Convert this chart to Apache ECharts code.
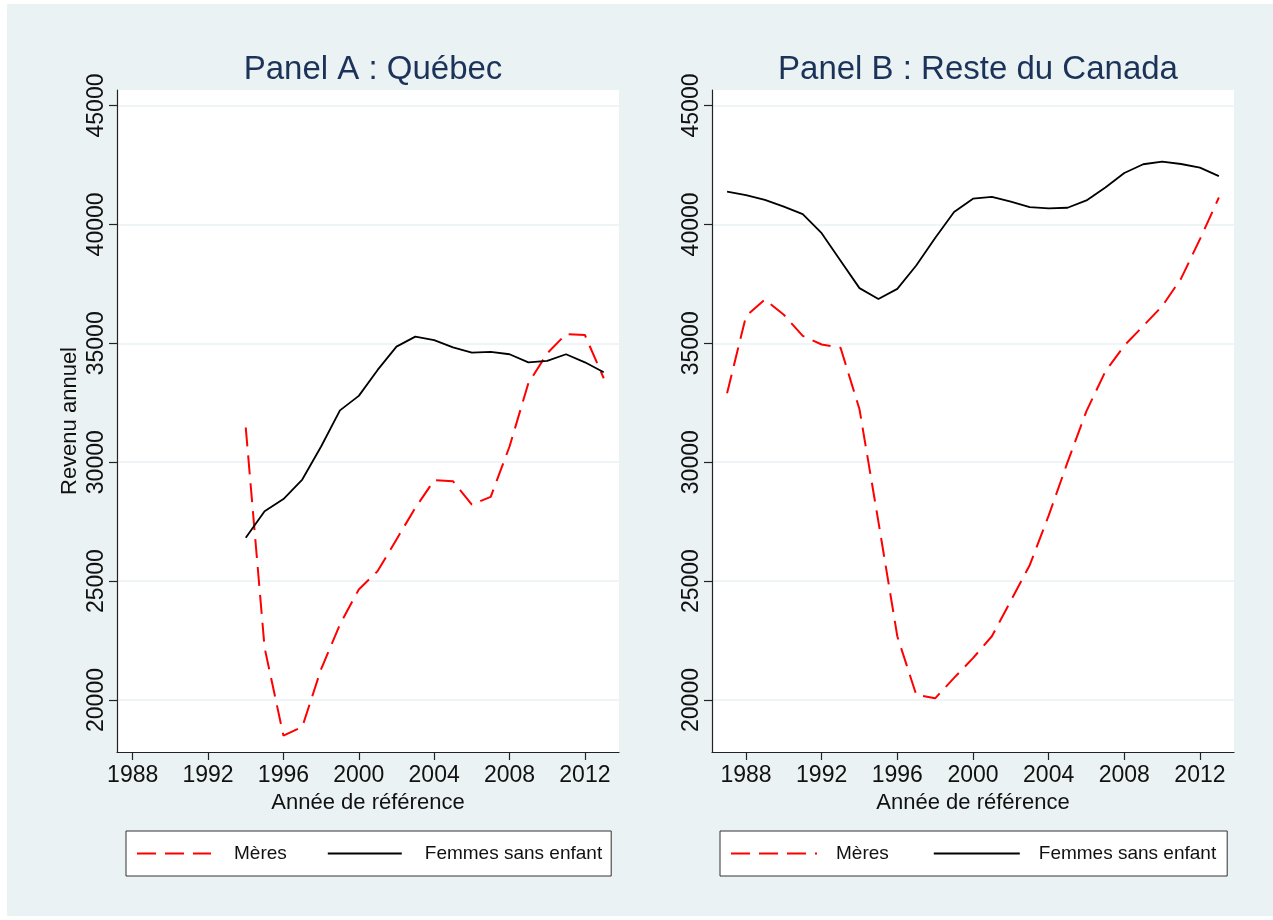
<!DOCTYPE html>
<html>
<head>
<meta charset="utf-8">
<script src="https://cdn.jsdelivr.net/npm/echarts@6/dist/echarts.min.js"></script>
<style>
  html, body { margin: 0; padding: 0; background: #fff; }
  #wrap { position: relative; width: 1273px; height: 920px; background: #fff; }
  #frame { position: absolute; left: 7px; top: 4px; right: 0; bottom: 4px; background: #eaf2f3; }
  #chart { position: absolute; left: 0; top: 0; width: 1273px; height: 920px; }
</style>
</head>
<body>
<div id="wrap">
  <div id="frame"></div>
  <div id="chart"></div>
</div>
<script>
// Panel A : Québec
var yearsA = [1994, 1995, 1996, 1997, 1998, 1999, 2000, 2001, 2002, 2003,
  2004, 2005, 2006, 2007, 2008, 2009, 2010, 2011, 2012, 2013];
var meresA = [31460, 22200, 18500, 18870, 21300, 23180, 24650, 25420, 26750, 28080,
  29240, 29200, 28220, 28540, 30660, 33320, 34580, 35390, 35350, 33530];
var femmesA = [26820, 27940, 28450, 29270, 30660, 32180, 32790, 33880, 34860, 35280,
  35130, 34830, 34610, 34640, 34540, 34200, 34260, 34540, 34200, 33780];

// Panel B : Reste du Canada
var yearsB = [1987, 1988, 1989, 1990, 1991, 1992, 1993, 1994, 1995, 1996,
  1997, 1998, 1999, 2000, 2001, 2002, 2003, 2004, 2005, 2006,
  2007, 2008, 2009, 2010, 2011, 2012, 2013];
var meresB = [32900, 36140, 36840, 36200, 35310, 34950, 34810, 32230, 27500, 22680,
  20220, 20070, 20930, 21760, 22680, 24170, 25670, 27750, 30000, 32150,
  33820, 34900, 35730, 36560, 37720, 39380, 41130];
var femmesB = [41380, 41230, 41030, 40750, 40430, 39630, 38470, 37320, 36860, 37290,
  38270, 39430, 40520, 41080, 41160, 40960, 40730, 40670, 40700, 41010,
  41550, 42160, 42530, 42640, 42540, 42390, 42030];

var yTicks = [20000, 25000, 30000, 35000, 40000, 45000];
var xTicks = [1988, 1992, 1996, 2000, 2004, 2008, 2012];

var FONT = '"Liberation Sans", Arial, sans-serif';

function pairs(xs, ys) {
  return xs.map(function (x, i) { return [x, ys[i]]; });
}

// pas de séparateur de milliers
function plain(v) { return String(v); }

function xAxisOpt(idx, min, max) {
  return {
    type: 'value', gridIndex: idx, min: min, max: max,
    name: 'Année de référence', nameLocation: 'middle', nameGap: 40,
    nameTextStyle: { fontFamily: FONT, fontSize: 22, color: '#111' },
    axisLine: { show: true, onZero: false, lineStyle: { color: '#222', width: 1.2 } },
    axisTick: { show: true, length: 8, customValues: xTicks, lineStyle: { color: '#222', width: 1.2 } },
    axisLabel: { customValues: xTicks, formatter: plain, margin: 12, fontFamily: FONT, fontSize: 23, color: '#111' },
    splitLine: { show: false }
  };
}

function yAxisOpt(idx, withName) {
  return {
    type: 'value', gridIndex: idx, min: 17813, max: 45652,
    name: withName ? 'Revenu annuel' : '', nameLocation: 'middle', nameGap: 36,
    nameTextStyle: { fontFamily: FONT, fontSize: 22, color: '#111' },
    axisLine: { show: true, lineStyle: { color: '#222', width: 1.2 } },
    axisTick: { show: true, length: 8, customValues: yTicks, lineStyle: { color: '#222', width: 1.2 } },
    axisLabel: { customValues: yTicks, formatter: plain, rotate: 90, margin: 9, fontFamily: FONT, fontSize: 23, color: '#111' },
    splitLine: { show: true, lineStyle: { color: '#eaf2f3', width: 1.5 } }
  };
}

function legendOpt(left, iconW, gap, textPad, rightPad) {
  return {
    left: left, top: 831, orient: 'horizontal',
    selectedMode: false,
    itemWidth: iconW, itemHeight: 14, itemGap: gap,
    padding: [13, rightPad, 13, 10],
    backgroundColor: '#fff', borderColor: '#333', borderWidth: 1,
    itemStyle: { opacity: 0 },
    textStyle: { fontFamily: FONT, fontSize: 19, color: '#111', padding: [0, 0, 0, textPad] },
    data: ['Mères', 'Femmes sans enfant']
  };
}

function serie(name, idx, data, dashed) {
  return {
    name: name, type: 'line', xAxisIndex: idx, yAxisIndex: idx,
    data: data, symbol: 'none', smooth: false, silent: true,
    lineStyle: dashed
      ? { color: '#ff0000', width: 2, type: [19, 9] }
      : { color: '#000000', width: 1.8, type: 'solid' },
    itemStyle: { color: dashed ? '#ff0000' : '#000000' }
  };
}

var chart = echarts.init(document.getElementById('chart'), null, { renderer: 'canvas' });

chart.setOption({
  backgroundColor: 'transparent',
  animation: false,
  title: [
    { text: 'Panel A : Québec', left: 368, top: 48, textAlign: 'center',
      textStyle: { fontFamily: FONT, fontSize: 33, fontWeight: 'normal', color: '#1c3359' } },
    { text: 'Panel B : Reste du Canada', left: 973, top: 48, textAlign: 'center',
      textStyle: { fontFamily: FONT, fontSize: 33, fontWeight: 'normal', color: '#1c3359' } }
  ],
  grid: [
    { left: 117, top: 90, width: 502, height: 662, show: true, backgroundColor: '#fff', borderWidth: 0 },
    { left: 712, top: 90, width: 522, height: 662, show: true, backgroundColor: '#fff', borderWidth: 0 }
  ],
  xAxis: [xAxisOpt(0, 1987.167, 2013.81), xAxisOpt(1, 1986.203, 2013.8)],
  yAxis: [yAxisOpt(0, true), yAxisOpt(1, false)],
  legend: [
    legendOpt(126, 74, 40, 18, 9),
    legendOpt(720, 86, 44, 14, 11)
  ],
  series: [
    serie('Mères', 0, pairs(yearsA, meresA), true),
    serie('Femmes sans enfant', 0, pairs(yearsA, femmesA), false),
    serie('Mères', 1, pairs(yearsB, meresB), true),
    serie('Femmes sans enfant', 1, pairs(yearsB, femmesB), false)
  ]
});
</script>
</body>
</html>
